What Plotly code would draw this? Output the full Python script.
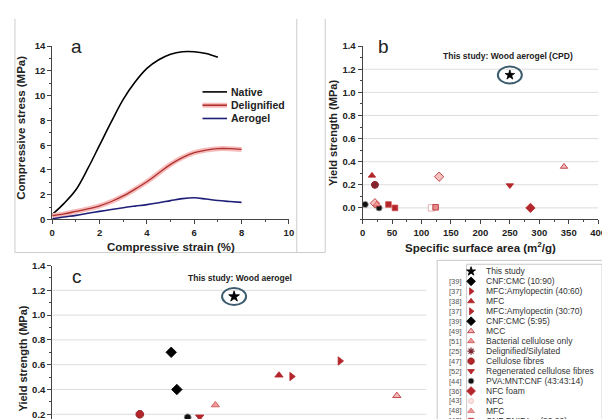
import plotly.graph_objects as go

W, H = 610, 419
FONT = "Liberation Sans, Arial, sans-serif"
RED = "#b3262b"
AXC = "#444444"

# ---------------- Panel a data ----------------
a_strain_native = [0, 0.5, 1, 1.5, 2, 2.5, 3, 3.5, 4, 4.5, 5, 5.5, 6, 6.5, 7]
a_stress_native = [0.4, 1.3, 2.4, 4.1, 6.0, 7.9, 9.7, 11.1, 12.2, 12.9, 13.35, 13.55, 13.55, 13.4, 13.1]
a_strain_delig = [0, 0.5, 1, 1.5, 2, 2.5, 3, 3.5, 4, 4.5, 5, 5.5, 6, 6.5, 7, 7.5, 8]
a_stress_delig = [0.3, 0.45, 0.65, 0.85, 1.1, 1.45, 1.9, 2.45, 3.05, 3.75, 4.45, 5.0, 5.4, 5.6, 5.72, 5.72, 5.66]
a_strain_aero = [0, 0.5, 1, 1.5, 2, 2.5, 3, 3.5, 4, 4.5, 5, 5.5, 6, 6.5, 7, 7.5, 8]
a_stress_aero = [0.05, 0.2, 0.33, 0.5, 0.65, 0.8, 0.95, 1.08, 1.2, 1.35, 1.52, 1.68, 1.75, 1.65, 1.53, 1.45, 1.38]
a_legend_labels = ["Native", "Delignified", "Aerogel"]

# ---------------- Panel b data ----------------
b_category = ["This study", "MFC", "Cellulose fibres", "Delignified/Silylated", "PVA:MNT:CNF (43:43:14)",
              "PVA:MNT:CNF (43:43:14)", "Half diamond", "Bacterial cellulose only", "CNF:PNIPAm (80:20)",
              "CNF:PNIPAm (80:20)", "Open square", "Half square", "Half diamond",
              "Regenerated cellulose fibres", "NFC foam", "MCC"]
b_surface_area = [250, 16, 21, 21, 4.5, 28, 21, 24, 44, 55, 117, 124, 130, 250, 285, 342]
b_yield = [1.15, 0.28, 0.20, 0.20, 0.03, 0.0, 0.04, 0.03, 0.03, 0.0, 0.0, 0.005, 0.27, 0.195, 0.0, 0.357]

# ---------------- Panel c data ----------------
c_category = ["This study", "CNF:CMC (10:90)", "CNF:CMC (5:95)", "Cellulose fibres", "PVA:MNT:CNF (43:43:14)",
              "Regenerated cellulose fibres", "Bacterial cellulose only", "MFC", "MFC:Amylopectin (40:60)",
              "MFC:Amylopectin (30:70)", "MCC"]
c_xval = [48.6, 31.8, 33.3, 23.4, 36.2, 39.4, 43.6, 60.6, 64.0, 76.9, 92.1]
c_yield = [1.15, 0.70, 0.40, 0.20, 0.175, 0.18, 0.275, 0.515, 0.505, 0.63, 0.35]

# ---------------- Legend (panel c) ----------------
legend_refs = ["", "[39]", "[37]", "[38]", "[37]", "[39]", "[49]", "[51]", "[25]", "[47]", "[52]",
               "[44]", "[36]", "[43]", "[48]", "[42]"]
legend_labels = ["This study", "CNF:CMC (10:90)", "MFC:Amylopectin (40:60)", "MFC", "MFC:Amylopectin (30:70)",
                 "CNF:CMC (5:95)", "MCC", "Bacterial cellulose only", "Delignified/Silylated", "Cellulose fibres",
                 "Regenerated cellulose fibres", "PVA:MNT:CNF (43:43:14)", "NFC foam", "NFC", "MFC",
                 "CNF:PNIPAm (80:20)"]
legend_keys = ["This study", "CNF:CMC (10:90)", "MFC:Amylopectin (40:60)", "MFC", "MFC:Amylopectin (30:70)",
               "CNF:CMC (5:95)", "MCC", "Bacterial cellulose only", "Delignified/Silylated", "Cellulose fibres",
               "Regenerated cellulose fibres", "PVA:MNT:CNF (43:43:14)", "NFC foam", "NFC", "MFC [48]",
               "CNF:PNIPAm (80:20)"]

STY = {
    "This study": dict(symbol="star", color="black", line="black", size=9),
    "CNF:CMC (10:90)": dict(symbol="diamond", color="black", line="black", size=9),
    "CNF:CMC (5:95)": dict(symbol="diamond", color="black", line="black", size=9),
    "MFC:Amylopectin (40:60)": dict(symbol="triangle-right", color=RED, line=RED, size=8),
    "MFC:Amylopectin (30:70)": dict(symbol="triangle-right", color=RED, line=RED, size=8),
    "MFC": dict(symbol="triangle-up", color=RED, line=RED, size=8),
    "MCC": dict(symbol="triangle-up", color="#f2b8b8", line=RED, size=8),
    "Bacterial cellulose only": dict(symbol="triangle-up", color="#f09a9a", line="#d04848", size=8),
    "Delignified/Silylated": dict(symbol="asterisk-open", color="#7a2630", line="#7a2630", size=8),
    "Cellulose fibres": dict(symbol="octagon", color=RED, line="#8a1c20", size=9),
    "Regenerated cellulose fibres": dict(symbol="triangle-down", color=RED, line=RED, size=8),
    "PVA:MNT:CNF (43:43:14)": dict(symbol="circle", color="#111111", line="#bbbbbb", size=8),
    "NFC foam": dict(symbol="diamond", color=RED, line=RED, size=9),
    "NFC": dict(symbol="circle", color="#f8e2e2", line="#f0c4c4", size=7),
    "MFC [48]": dict(symbol="triangle-up", color="#e89a9a", line="#e07070", size=8),
    "CNF:PNIPAm (80:20)": dict(symbol="square", color=RED, line="#d04848", size=7),
    "Half diamond": dict(symbol="diamond", color="#f5c0c0", line=RED, size=9),
    "Open square": dict(symbol="square", color="white", line="#e0a0a0", size=8),
    "Half square": dict(symbol="square", color="#e88d8d", line=RED, size=7),
}


def px(x):
    return x / W


def py(y):
    return 1 - y / H


fig = go.Figure()


def marker(key, scale=1.0):
    s = STY[key]
    return dict(symbol=s["symbol"], color=s["color"], size=s["size"] * scale,
                line=dict(color=s["line"], width=1.2 if "asterisk" in s["symbol"] else 0.8))


# Panel a curves
fig.add_trace(go.Scatter(x=a_strain_native, y=a_stress_native, mode="lines", line=dict(color="black", width=1.6, shape="spline"),
                         xaxis="x", yaxis="y", showlegend=False))
fig.add_trace(go.Scatter(x=a_strain_delig, y=a_stress_delig, mode="lines", line=dict(color="#f6bcbc", width=5, shape="spline"),
                         xaxis="x", yaxis="y", showlegend=False))
fig.add_trace(go.Scatter(x=a_strain_delig, y=a_stress_delig, mode="lines", line=dict(color="#b0302e", width=1.3, shape="spline"),
                         xaxis="x", yaxis="y", showlegend=False))
fig.add_trace(go.Scatter(x=a_strain_aero, y=a_stress_aero, mode="lines", line=dict(color="#1f1f78", width=1.6, shape="spline"),
                         xaxis="x", yaxis="y", showlegend=False))

# Panel b points
for key in dict.fromkeys(b_category):
    idx = [i for i, c in enumerate(b_category) if c == key]
    fig.add_trace(go.Scatter(x=[b_surface_area[i] for i in idx], y=[b_yield[i] for i in idx], mode="markers",
                             marker=marker(key, 0.8), xaxis="x2", yaxis="y2", showlegend=False, name=key))

# Panel c points
for key in dict.fromkeys(c_category):
    idx = [i for i, c in enumerate(c_category) if c == key]
    fig.add_trace(go.Scatter(x=[c_xval[i] for i in idx], y=[c_yield[i] for i in idx], mode="markers",
                             marker=marker(key, 0.9), xaxis="x3", yaxis="y3", showlegend=False, name=key))

# Legend symbols on a pixel overlay axis
LEG_Y0, LEG_DY, LEG_SYM_X, LEG_REF_X, LEG_TXT_X = 264.3, 10.24, 468.5, 461.5, 481.5
for i, key in enumerate(legend_keys):
    fig.add_trace(go.Scatter(x=[LEG_SYM_X], y=[LEG_Y0 + LEG_DY * i], mode="markers", marker=marker(key, 0.75),
                             xaxis="x4", yaxis="y4", showlegend=False, hoverinfo="skip"))

annotations = []
shapes = []


def ann(text, x, y, size, bold=False, color="#222222", xanchor="center", yanchor="middle", angle=0, family=FONT):
    annotations.append(dict(text=text, x=px(x), y=py(y), xref="paper", yref="paper", showarrow=False,
                            xanchor=xanchor, yanchor=yanchor, textangle=angle,
                            font=dict(family=family, size=size, color=color, weight="bold" if bold else "normal")))


for i, (ref, lab) in enumerate(zip(legend_refs, legend_labels)):
    yy = LEG_Y0 + LEG_DY * i
    if ref:
        ann(ref, LEG_REF_X, yy, 7.5, color="#555555", xanchor="right")
    ann(lab, LEG_TXT_X, yy, 8.5, color="#333333", xanchor="left")

# Panel a legend
a_leg_colors = ["black", "#b0302e", "#1f1f78"]
a_leg_rows = [80, 93.7, 107.3]
for lab, col, yy in zip(a_legend_labels, a_leg_colors, a_leg_rows):
    if lab == "Delignified":
        shapes.append(dict(type="line", xref="paper", yref="paper", x0=px(195), x1=px(220), y0=py(yy), y1=py(yy),
                           line=dict(color="#f6bcbc", width=5)))
    shapes.append(dict(type="line", xref="paper", yref="paper", x0=px(195), x1=px(220), y0=py(yy), y1=py(yy),
                       line=dict(color=col, width=1.6)))
    ann(lab, 222.5, yy, 10.5, bold=True, color="#222222", xanchor="left")

# Panel letters and titles
ann("a", 67, 33, 19)
ann("b", 379, 33, 19)
ann("c", 67, 270, 19)
ann("Compressive stress (MPa)", 10, 117, 11.5, bold=True, angle=-90)
ann("Compressive strain (%)", 162.5, 239, 11.5, bold=True)
ann("Yield strength (MPa)", 328, 122, 11, bold=True, angle=-90)
ann("Specific surface area (m<sup>2</sup>/g)", 478, 239, 11.5, bold=True)
ann("Yield strength (MPa)", 12, 354, 11, bold=True, angle=-90)
ann("This study: Wood aerogel (CPD)", 506, 43, 8.5, bold=True)
ann("This study: Wood aerogel", 233, 271, 8.5, bold=True)

# Highlight ellipses around "This study" stars
shapes.append(dict(type="circle", xref="x2", yref="y2", xsizemode="pixel", ysizemode="pixel",
                   xanchor=b_surface_area[0], yanchor=b_yield[0], x0=-12, x1=12, y0=-8.5, y1=8.5,
                   line=dict(color="#3d5d6f", width=2)))
shapes.append(dict(type="circle", xref="x3", yref="y3", xsizemode="pixel", ysizemode="pixel",
                   xanchor=c_xval[0], yanchor=c_yield[0], x0=-12, x1=12, y0=-8.5, y1=8.5,
                   line=dict(color="#3d5d6f", width=2)))

# Grid lines (panels b and c)
grid_vals_b = [0.0, 0.2, 0.4, 0.6, 0.8, 1.0, 1.2]
grid_vals_c = [0.2, 0.4, 0.6, 0.8, 1.0, 1.2]
for v in grid_vals_b:
    shapes.append(dict(type="line", xref="x2 domain", yref="y2", x0=0, x1=1, y0=v, y1=v,
                       line=dict(color="#dddddd", width=1), layer="below"))
for v in grid_vals_c:
    shapes.append(dict(type="line", xref="x3 domain", yref="y3", x0=0, x1=1, y0=v, y1=v,
                       line=dict(color="#dddddd", width=1), layer="below"))

# Frames
FR = "#cccccc"
for (x0, y0, x1, y1) in [(4, 5, 4, 245), (291, 5, 291, 245), (4, 245, 320, 245), (320, 5, 320, 245)]:
    shapes.append(dict(type="line", xref="paper", yref="paper", x0=px(x0), x1=px(x1), y0=py(y0), y1=py(y1),
                       line=dict(color=FR, width=1)))
shapes.append(dict(type="rect", xref="paper", yref="paper", x0=px(434), x1=px(608), y0=py(253), y1=py(430),
                   line=dict(color="#c8c8c8", width=1), layer="below"))
shapes.append(dict(type="rect", xref="paper", yref="paper", x0=px(464), x1=px(602), y0=py(257), y1=py(430),
                   line=dict(color="#c8c8c8", width=1), layer="below"))

tickfont = dict(family=FONT, size=9.5, color="#222222", weight="bold")
common = dict(showline=True, linecolor=AXC, linewidth=1, ticks="outside", ticklen=4, tickcolor=AXC,
              tickfont=tickfont, showgrid=False, zeroline=False, fixedrange=True)

fig.update_layout(
    width=W, height=H, margin=dict(l=0, r=0, t=0, b=0),
    paper_bgcolor="white", plot_bgcolor="rgba(0,0,0,0)", showlegend=False,
    xaxis=dict(domain=[px(42), px(283)], anchor="y", range=[0, 10], dtick=2, tick0=0,
               minor=dict(dtick=1, ticks="outside", ticklen=2, tickcolor=AXC), **common),
    yaxis=dict(domain=[py(211), py(33)], anchor="x", range=[0, 14], dtick=2, tick0=0,
               minor=dict(dtick=1, ticks="outside", ticklen=2, tickcolor=AXC), **common),
    xaxis2=dict(domain=[px(358), px(598)], anchor="y2", range=[0, 400], dtick=50, tick0=0,
                minor=dict(dtick=25, ticks="outside", ticklen=2, tickcolor=AXC), **common),
    yaxis2=dict(domain=[py(211), py(33)], anchor="x2", range=[-0.1, 1.4], dtick=0.2, tick0=0, tickformat=".1f",
                minor=dict(dtick=0.1, tick0=0, ticks="outside", ticklen=2, tickcolor=AXC), **common),
    xaxis3=dict(domain=[px(42), px(423)], anchor="y3", range=[0, 100], visible=False, fixedrange=True),
    yaxis3=dict(domain=[0, py(258.3)], anchor="x3", range=[0.138, 1.4], dtick=0.2, tick0=0, tickformat=".1f",
                minor=dict(dtick=0.1, tick0=0, ticks="outside", ticklen=2, tickcolor=AXC), **common),
    xaxis4=dict(domain=[0, 1], anchor="y4", range=[0, W], visible=False, fixedrange=True),
    yaxis4=dict(domain=[0, 1], anchor="x4", range=[H, 0], visible=False, fixedrange=True),
    annotations=annotations, shapes=shapes,
)

fig.write_html("out.html")
